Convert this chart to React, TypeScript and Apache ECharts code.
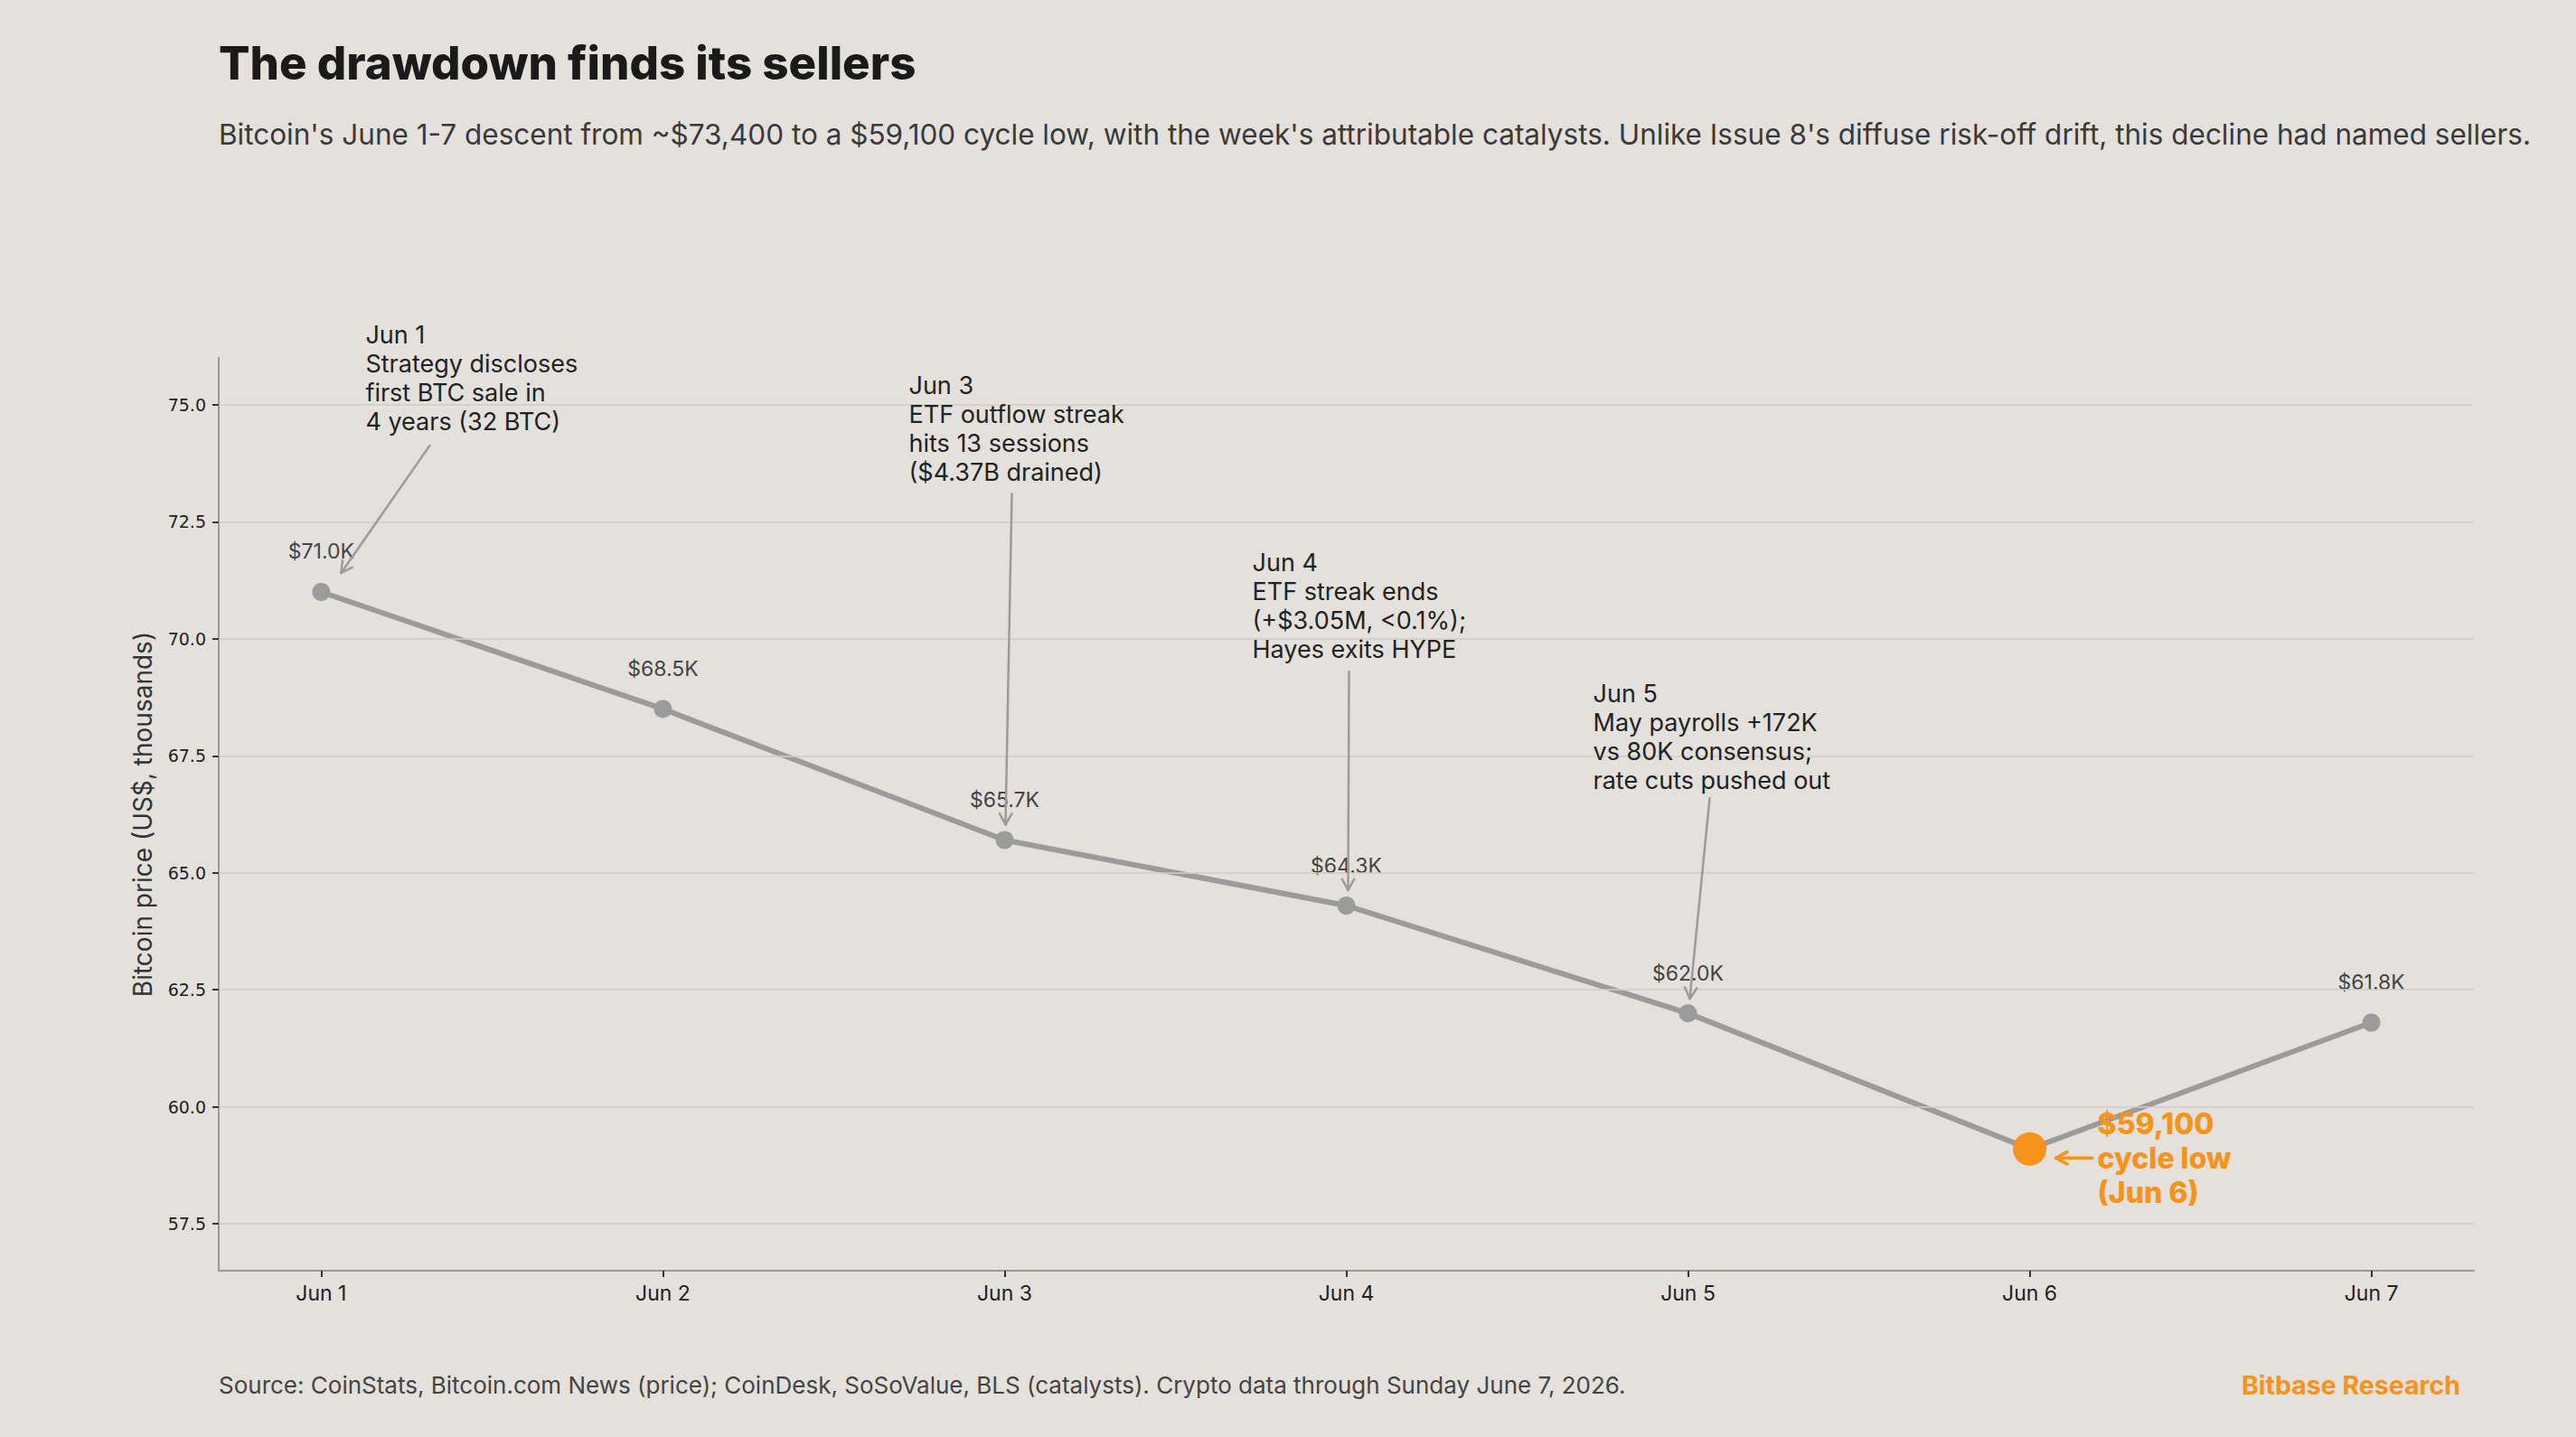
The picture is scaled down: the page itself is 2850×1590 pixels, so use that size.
import React, { useEffect, useRef } from "react";
import * as echarts from "echarts";

// Daily closes, Jun 1–7 (US$ thousands)
const days = [1, 2, 3, 4, 5, 6, 7];
const dayLabels = ["Jun 1", "Jun 2", "Jun 3", "Jun 4", "Jun 5", "Jun 6", "Jun 7"];
const prices = [71.0, 68.5, 65.7, 64.3, 62.0, 59.1, 61.8];
const yTicks = [57.5, 60.0, 62.5, 65.0, 67.5, 70.0, 72.5, 75.0];
const lowIndex = 5;

// Catalyst call-outs
const catalystDays = [1, 3, 4, 5];
const catalystNotes = [
  "Jun 1\nStrategy discloses\nfirst BTC sale in\n4 years (32 BTC)",
  "Jun 3\nETF outflow streak\nhits 13 sessions\n($4.37B drained)",
  "Jun 4\nETF streak ends\n(+$3.05M, <0.1%);\nHayes exits HYPE",
  "Jun 5\nMay payrolls +172K\nvs 80K consensus;\nrate cuts pushed out",
];
// pixel offsets from the annotated point: text left, first line centre, arrow tail, arrow head
const noteLayout = [
  [49, -284, 120, -162, 22, -21],
  [-106, -503, 8, -383, 1, -17],
  [-104, -380, 3, -259, 2, -17],
  [-105, -354, 24, -238, 2, -16],
];

const FONT = "Inter, 'Noto Sans', sans-serif";
const BG = "#e4e0db";
const ORANGE = "#f7931a";
const LINE_GREY = "#9b9b9b";
const ARROW_GREY = "#9e9a96";

function arrow(x1: number, y1: number, x2: number, y2: number, color: string, width: number) {
  const ang = Math.atan2(y2 - y1, x2 - x1);
  const len = 14;
  const spread = 0.5;
  const w1 = [x2 - len * Math.cos(ang - spread), y2 - len * Math.sin(ang - spread)];
  const w2 = [x2 - len * Math.cos(ang + spread), y2 - len * Math.sin(ang + spread)];
  return [
    {
      type: "line",
      shape: { x1, y1, x2, y2 },
      style: { stroke: color, lineWidth: width, lineCap: "round" },
      silent: true,
      z: 10,
    },
    {
      type: "polyline",
      shape: { points: [w1, [x2, y2], w2] },
      style: { stroke: color, lineWidth: width, fill: null, lineCap: "round", lineJoin: "round" },
      silent: true,
      z: 10,
    },
  ];
}

export default function App() {
  const ref = useRef<HTMLDivElement>(null);

  useEffect(() => {
    if (!ref.current) return;
    const chart = echarts.init(ref.current, null, { renderer: "svg" });

    const seriesData = days.map((d, i) => {
      if (i === lowIndex) {
        return {
          value: [d, prices[i]],
          symbolSize: 37,
          itemStyle: { color: ORANGE },
          label: { show: false },
        };
      }
      return { value: [d, prices[i]] };
    });

    chart.setOption({
      animation: false,
      backgroundColor: BG,
      grid: { left: 242, right: 113, top: 396, bottom: 184, containLabel: false },
      xAxis: {
        type: "value",
        min: 0.7,
        max: 7.3,
        axisLine: { show: true, lineStyle: { color: "#999999", width: 2 } },
        axisTick: { show: true, customValues: days, length: 7, lineStyle: { color: "#333", width: 2 } },
        axisLabel: {
          customValues: days,
          formatter: (v: number) => dayLabels[Math.round(v) - 1] ?? "",
          color: "#222",
          fontFamily: FONT,
          fontSize: 23,
          margin: 13,
        },
        splitLine: { show: false },
      },
      yAxis: {
        type: "value",
        min: 56.5,
        max: 76,
        name: "Bitcoin price (US$, thousands)",
        nameLocation: "middle",
        nameRotate: 90,
        nameGap: 70,
        nameTextStyle: { color: "#333", fontFamily: FONT, fontSize: 28 },
        axisLine: { show: true, lineStyle: { color: "#999999", width: 2 } },
        axisTick: { show: true, customValues: yTicks, length: 7, lineStyle: { color: "#333", width: 2 } },
        axisLabel: {
          customValues: yTicks,
          formatter: (v: number) => v.toFixed(1),
          color: "#222",
          fontFamily: "'DejaVu Sans', sans-serif",
          fontSize: 19,
          margin: 14,
        },
        splitLine: { show: false },
      },
      series: [
        {
          type: "line",
          data: [],
          silent: true,
          z: 1,
          markLine: {
            silent: true,
            symbol: "none",
            label: { show: false },
            lineStyle: { color: "#d2cdc7", width: 1.6, type: "solid" },
            data: yTicks.map((v) => ({ yAxis: v })),
          },
        },
        {
          type: "line",
          data: seriesData,
          silent: true,
          z: 3,
          symbol: "circle",
          symbolSize: 20,
          lineStyle: { color: LINE_GREY, width: 6 },
          itemStyle: { color: LINE_GREY },
          label: {
            show: true,
            position: "top",
            distance: 23,
            color: "#444",
            fontFamily: FONT,
            fontSize: 23,
            formatter: (p: any) => `$${p.value[1].toFixed(1)}K`,
          },
        },
      ],
    });

    const g: any[] = [
      {
        type: "text",
        style: {
          text: "The drawdown finds its sellers",
          x: 242,
          y: 69,
          verticalAlign: "middle",
          fill: "#1a1a1a",
          font: `800 51px ${FONT}`,
        },
      },
      {
        type: "text",
        style: {
          text:
            "Bitcoin's June 1-7 descent from ~$73,400 to a $59,100 cycle low, with the week's attributable catalysts. Unlike Issue 8's diffuse risk-off drift, this decline had named sellers.",
          x: 242,
          y: 148,
          verticalAlign: "middle",
          fill: "#3a3a3a",
          font: `400 31.5px ${FONT}`,
        },
      },
      {
        type: "text",
        style: {
          text:
            "Source: CoinStats, Bitcoin.com News (price); CoinDesk, SoSoValue, BLS (catalysts). Crypto data through Sunday June 7, 2026.",
          x: 242,
          y: 1532,
          verticalAlign: "middle",
          fill: "#444",
          font: `400 26px ${FONT}`,
        },
      },
      {
        type: "text",
        style: {
          text: "Bitbase Research",
          x: 2722,
          y: 1532,
          align: "right",
          verticalAlign: "middle",
          fill: ORANGE,
          font: `700 28.5px ${FONT}`,
        },
      },
    ];

    catalystDays.forEach((d, i) => {
      const [px, py] = chart.convertToPixel({ gridIndex: 0 }, [d, prices[d - 1]]) as number[];
      const [tx, ty, ax1, ay1, ax2, ay2] = noteLayout[i];
      g.push({
        type: "text",
        z: 10,
        style: {
          text: catalystNotes[i],
          x: px + tx,
          y: py + ty - 16,
          verticalAlign: "top",
          lineHeight: 32,
          fill: "#222",
          font: `400 27px ${FONT}`,
        },
      });
      g.push(...arrow(px + ax1, py + ay1, px + ax2, py + ay2, ARROW_GREY, 2.5));
    });

    // cycle-low call-out
    const [lx, ly] = chart.convertToPixel({ gridIndex: 0 }, [days[lowIndex], prices[lowIndex]]) as number[];
    g.push(...arrow(lx + 69, ly + 10, lx + 29, ly + 10, ORANGE, 3.5));
    g.push({
      type: "text",
      z: 10,
      style: {
        text: `$${Math.round(prices[lowIndex] * 1000).toLocaleString("en-US")}\ncycle low\n(${dayLabels[lowIndex]})`,
        x: lx + 75,
        y: ly - 28 - 19,
        verticalAlign: "top",
        lineHeight: 38,
        fill: ORANGE,
        font: `800 32px ${FONT}`,
      },
    });

    chart.setOption({ graphic: g });

    return () => chart.dispose();
  }, []);

  return (
    <div
      ref={ref}
      style={{ position: "fixed", left: 0, top: 0, width: 2850, height: 1590 }}
    />
  );
}
